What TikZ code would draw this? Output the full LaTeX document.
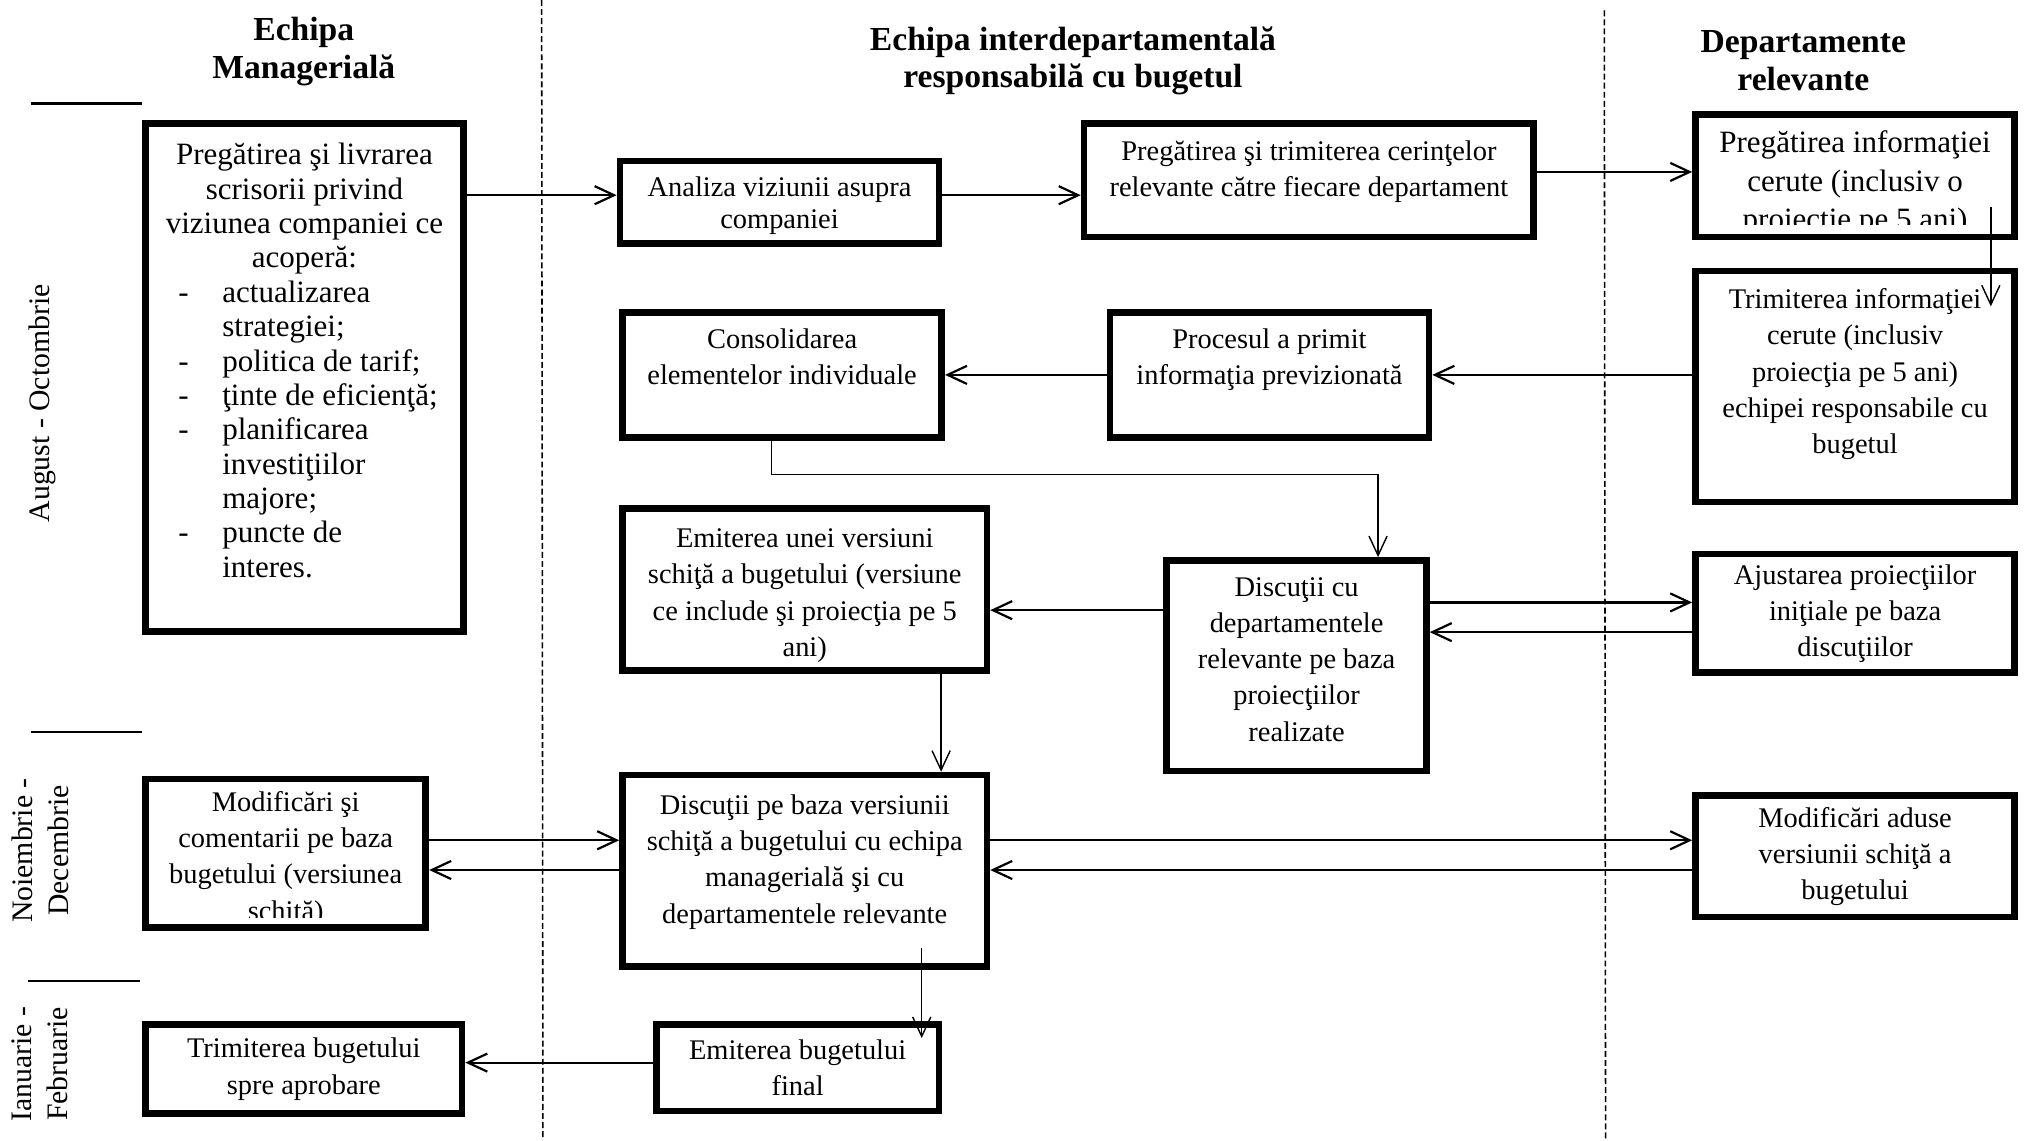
\documentclass[tikz,border=0pt]{standalone}
\usepackage{fontspec}
\setmainfont{Liberation Serif}
\usetikzlibrary{arrows.meta,calc}
\newcommand{\itemline}[1]{\makebox[110pt][l]{\hspace{6.25pt}\makebox[17pt][l]{-}#1}}
\newcommand{\itemcont}[1]{\makebox[110pt][l]{\hspace{23.25pt}#1}}
\begin{document}
\begin{tikzpicture}[x=0.5pt,y=-0.5pt,
  box/.style={draw, line width=2.6pt, rectangle, inner sep=1pt, align=center, font=\fontsize{11}{14}\selectfont},
  cliptxt/.style={align=center, inner sep=0pt},
  arr/.style={line width=0.85pt, -{Straight Barb[length=7.5pt,width=7pt]}},
  tarr/.style={line width=0.55pt, -{Straight Barb[length=7.5pt,width=7pt]}},
  lane/.style={line width=0.6pt, dash pattern=on 2.3pt off 1.2pt},
  sepline/.style={line width=0.9pt},
  head/.style={font=\bfseries\fontsize{13}{14.5}\selectfont, align=center},
  side/.style={font=\fontsize{11.5}{14}\selectfont, align=center, rotate=90}
]
\useasboundingbox (0,0) rectangle (1568,882);

% lanes
\draw[lane] (419,0) -- (420,882);
\draw[lane] (1241,8) -- (1242,882);

% period separators
\draw[sepline] (24,80) -- (110,80);
\draw[sepline] (24,566) -- (110,566);
\draw[sepline] (22,759) -- (108,759);

% side labels
\node[side] (t1) at (33,312) {August - Octombrie};
\node[side] (t2) at (31,658) {Noiembrie -\\Decembrie};
\node[side] (t3) at (31,823) {Ianuarie -\\Februarie};

% headers
\node[head] (h1) at (235,40) {Echipa\\Managerială};
\node[head] (h2) at (830,47) {Echipa interdepartamentală\\responsabilă cu bugetul};
\node[head] (h3) at (1395,47) {Departamente\\relevante};

% boxes
\node[box, font=\fontsize{12}{13.3}\selectfont, minimum width=122.9pt, minimum height=196.4pt] (scris) at (235.5,292)
 {Pregătirea şi livrarea\\ scrisorii privind\\ viziunea companiei ce\\ acoperă:\\
  \itemline{actualizarea}\\ \itemcont{strategiei;}\\ \itemline{politica de tarif;}\\
  \itemline{ţinte de eficienţă;}\\ \itemline{planificarea}\\ \itemcont{investiţiilor}\\
  \itemcont{majore;}\\ \itemline{puncte de}\\ \itemcont{interes.}\\\mbox{}};
\node[box, font=\fontsize{11}{12.5}\selectfont, minimum width=123.4pt, minimum height=31.9pt] (anal) at (603,156.5)
 {\rule{0pt}{10pt}Analiza viziunii asupra\\ companiei};
\node[box, minimum width=173.9pt, minimum height=43.9pt] (trimc) at (1012.5,139.5)
 {Pregătirea şi trimiterea cerinţelor\\ relevante către fiecare departament\\[-5pt]\mbox{}};
\node[box, minimum width=123.4pt, minimum height=47.4pt] (pinf) at (1435,136) {};
\begin{scope}
 \clip ([shift={(2.7pt,-2.7pt)}]pinf.north west) rectangle ([shift={(-2.7pt,6pt)}]pinf.south east);
 \node[cliptxt, font=\fontsize{12}{15}\selectfont] (pinft) at ([yshift=-3pt]pinf.center)
  {Pregătirea informaţiei\\ cerute (inclusiv o\\ proiecţie pe 5 ani)};
\end{scope}
\node[box, minimum width=123.4pt, minimum height=89.4pt] (tinf) at (1435,299)
 {Trimiterea informaţiei\\ cerute (inclusiv\\ proiecţia pe 5 ani)\\ echipei responsabile cu\\ bugetul\\[-2pt]\mbox{}};
\node[box, minimum width=123.4pt, minimum height=48.4pt] (cons) at (605,290)
 {Consolidarea\\ elementelor individuale\\\mbox{}};
\node[box, minimum width=123.4pt, minimum height=48.4pt] (proc) at (982,290)
 {Procesul a primit\\ informaţia previzionată\\\mbox{}};
\node[box, minimum width=140.9pt, minimum height=62.4pt] (emv) at (622.5,456)
 {\rule{0pt}{12pt}Emiterea unei versiuni\\ schiţă a bugetului (versiune\\ ce include şi proiecţia pe 5\\ ani)};
\node[box, minimum width=100.4pt, minimum height=81.4pt] (disc) at (1003,515)
 {Discuţii cu\\ departamentele\\ relevante pe baza\\ proiecţiilor\\ realizate\\[-9pt]\mbox{}};
\node[box, minimum width=123.4pt, minimum height=45.9pt] (ajus) at (1435,474.5)
 {Ajustarea proiecţiilor\\ iniţiale pe baza\\ discuţiilor};
\node[box, minimum width=140.9pt, minimum height=73.9pt] (dpb) at (622.5,673.5)
 {Discuţii pe baza versiunii\\ schiţă a bugetului cu echipa\\ managerială şi cu\\ departamentele relevante\\[-5pt]\mbox{}};
\node[box, minimum width=108.4pt, minimum height=57.4pt] (modc) at (221,660) {};
\begin{scope}
 \clip ([shift={(2.7pt,-2.7pt)}]modc.north west) rectangle ([shift={(-2.7pt,5pt)}]modc.south east);
 \node[cliptxt, font=\fontsize{11}{14}\selectfont] (modct) at ([yshift=-2.2pt]modc.center)
  {Modificări şi\\ comentarii pe baza\\ bugetului (versiunea\\ schiţă)};
\end{scope}
\node[box, minimum width=123.4pt, minimum height=46.9pt] (moda) at (1435,662.5)
 {Modificări aduse\\ versiunii schiţă a\\ bugetului};
\node[box, minimum width=109.4pt, minimum height=33.4pt] (emf) at (617,826)
 {Emiterea bugetului\\ final};
\node[box, minimum width=122.4pt, minimum height=34.4pt] (trb) at (235,827)
 {Trimiterea bugetului\\ spre aprobare};

% helper levels
\coordinate (ya) at (0,151);
\coordinate (yc) at (0,133);
\coordinate (yd) at (0,290);
\coordinate (ye) at (0,472);
\coordinate (yf1) at (0,466);
\coordinate (yf2) at (0,489);
\coordinate (yg1) at (0,650);
\coordinate (yg2) at (0,673);
\coordinate (yh) at (0,822);

% connectors
\draw[arr] (scris.east |- ya) -- (anal.west |- ya);
\draw[arr] (anal.east |- ya) -- (trimc.west |- ya);
\draw[arr] (trimc.east |- yc) -- (pinf.west |- yc);
\coordinate (p1) at (1540,160);
\coordinate (p2) at (1540,237);
\draw[tarr] (p1) -- (p2);
\draw[arr] (tinf.west |- yd) -- (proc.east |- yd);
\draw[arr] (proc.west |- yd) -- (cons.east |- yd);
\coordinate (k1) at (597,367);
\coordinate (k2) at (1066,367);
\draw[tarr] (cons.south -| k1) -- (k1) -- (k2) -- (disc.north -| k2);
\draw[arr] (disc.west |- ye) -- (emv.east |- ye);
\draw[arr] (disc.east |- yf1) -- (ajus.west |- yf1);
\draw[arr] (ajus.west |- yf2) -- (disc.east |- yf2);
\coordinate (k3) at (728,560);
\draw[tarr] (emv.south -| k3) -- (dpb.north -| k3);
\draw[arr] (modc.east |- yg1) -- (dpb.west |- yg1);
\draw[arr] (dpb.west |- yg2) -- (modc.east |- yg2);
\draw[arr] (dpb.east |- yg1) -- (moda.west |- yg1);
\draw[arr] (moda.west |- yg2) -- (dpb.east |- yg2);
\coordinate (d1) at (713,733);
\coordinate (d2) at (713,803);
\draw[tarr] (d1) -- (d2);
\draw[arr] (emf.west |- yh) -- (trb.east |- yh);
\end{tikzpicture}
\end{document}
